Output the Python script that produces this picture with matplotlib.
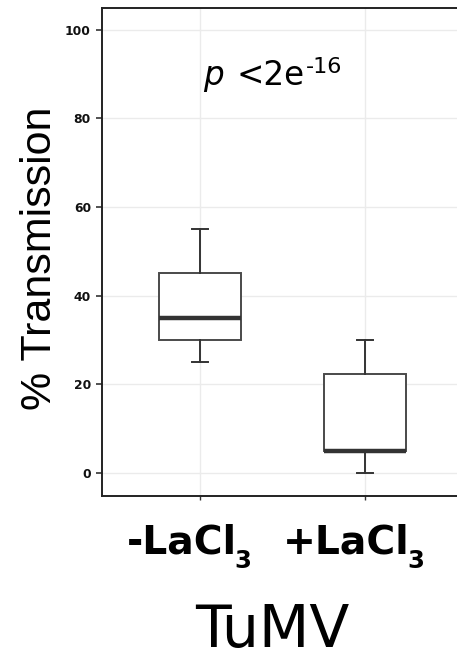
import matplotlib
matplotlib.use("Agg")
import matplotlib.pyplot as plt

# Data
categories = ["-LaCl", "+LaCl"]
category_subscripts = ["3", "3"]
whisker_low = [25, 0]
q1 = [30, 5]
median = [35, 5]
q3 = [45, 22.3]
whisker_high = [55, 30]
yticks = [0, 20, 40, 60, 80, 100]

W, H = 457, 659
fig = plt.figure(figsize=(W/100, H/100), dpi=100)
ax = fig.add_axes([102/W, (H-496)/H, 1 - 102/W, (496-7.5)/H])

stats = []
for i in range(len(categories)):
    stats.append(dict(whislo=whisker_low[i], q1=q1[i], med=median[i],
                      q3=q3[i], whishi=whisker_high[i], fliers=[]))
positions = list(range(1, len(categories) + 1))
ax.bxp(stats, positions=positions, widths=0.5, capwidths=0.095,
       patch_artist=True, showfliers=False,
       boxprops=dict(facecolor='white', edgecolor='#4a4a4a', linewidth=1.4),
       medianprops=dict(color='#333333', linewidth=3.2, solid_capstyle='butt'),
       whiskerprops=dict(color='#333333', linewidth=1.4),
       capprops=dict(color='#333333', linewidth=1.4),
       zorder=3)

ax.set_xlim(0.405, 2.56)
ax.set_ylim(-5.25, 105)
ax.set_yticks(yticks)
ax.set_xticks(positions)
ax.set_xticklabels([""] * len(positions))
ax.grid(True, color='#EBEBEB', linewidth=1.0, zorder=0)
ax.set_axisbelow(True)

for s in ['left', 'bottom', 'top']:
    ax.spines[s].set_color('#222222')
    ax.spines[s].set_linewidth(1.4)
ax.spines['right'].set_visible(False)

ax.tick_params(axis='y', length=4, width=1.2, color='#333333', pad=4,
               labelsize=8.9)
ax.tick_params(axis='x', length=3, width=1.0, color='#333333')
for lbl in ax.get_yticklabels():
    lbl.set_fontfamily('DejaVu Sans')
    lbl.set_fontweight('bold')
    lbl.set_color('#111111')

fig.text(40/W, 1 - 258/H, "% Transmission", rotation=90, ha='center', va='center',
         fontsize=31, fontfamily='Liberation Sans', color='black')
fig.text(272/W, 1 - 631/H, "TuMV", ha='center', va='center',
         fontsize=42, fontfamily='DejaVu Sans', color='black')

fig.canvas.draw()
r = fig.canvas.get_renderer()

# x category labels with lowered subscript
for pos, main, sub in zip(positions, categories, category_subscripts):
    xpix = ax.transData.transform((pos, 0))[0]
    tm = fig.text(0, 1 - 553/H, main, ha='left', va='baseline', fontsize=28.3,
                  fontweight='bold', fontfamily='DejaVu Sans')
    ts = fig.text(0, 1 - 568/H, sub, ha='left', va='baseline', fontsize=17.5,
                  fontweight='bold', fontfamily='DejaVu Sans')
    wm = tm.get_window_extent(r).width
    ws = ts.get_window_extent(r).width
    gap = -2
    total = wm + gap + ws
    left = xpix - 11 - total / 2
    tm.set_x(left / W)
    ts.set_x((left + wm + gap) / W)

# p-value annotation
base_y = 1 - 85/H
tp = fig.text(203/W, base_y, "p", style='italic', ha='left', va='baseline',
              fontsize=23.5, fontfamily='DejaVu Sans')
tp_bb = tp.get_window_extent(r)
t2 = fig.text((tp_bb.x1 + 13)/W, base_y, "<2e", ha='left', va='baseline',
              fontsize=23.5, fontfamily='DejaVu Sans')
t2_bb = t2.get_window_extent(r)
fig.text((t2_bb.x1 + 1)/W, 1 - 73/H, "-16", ha='left', va='baseline',
         fontsize=16, fontfamily='DejaVu Sans')

fig.savefig("out.png", dpi=100)
